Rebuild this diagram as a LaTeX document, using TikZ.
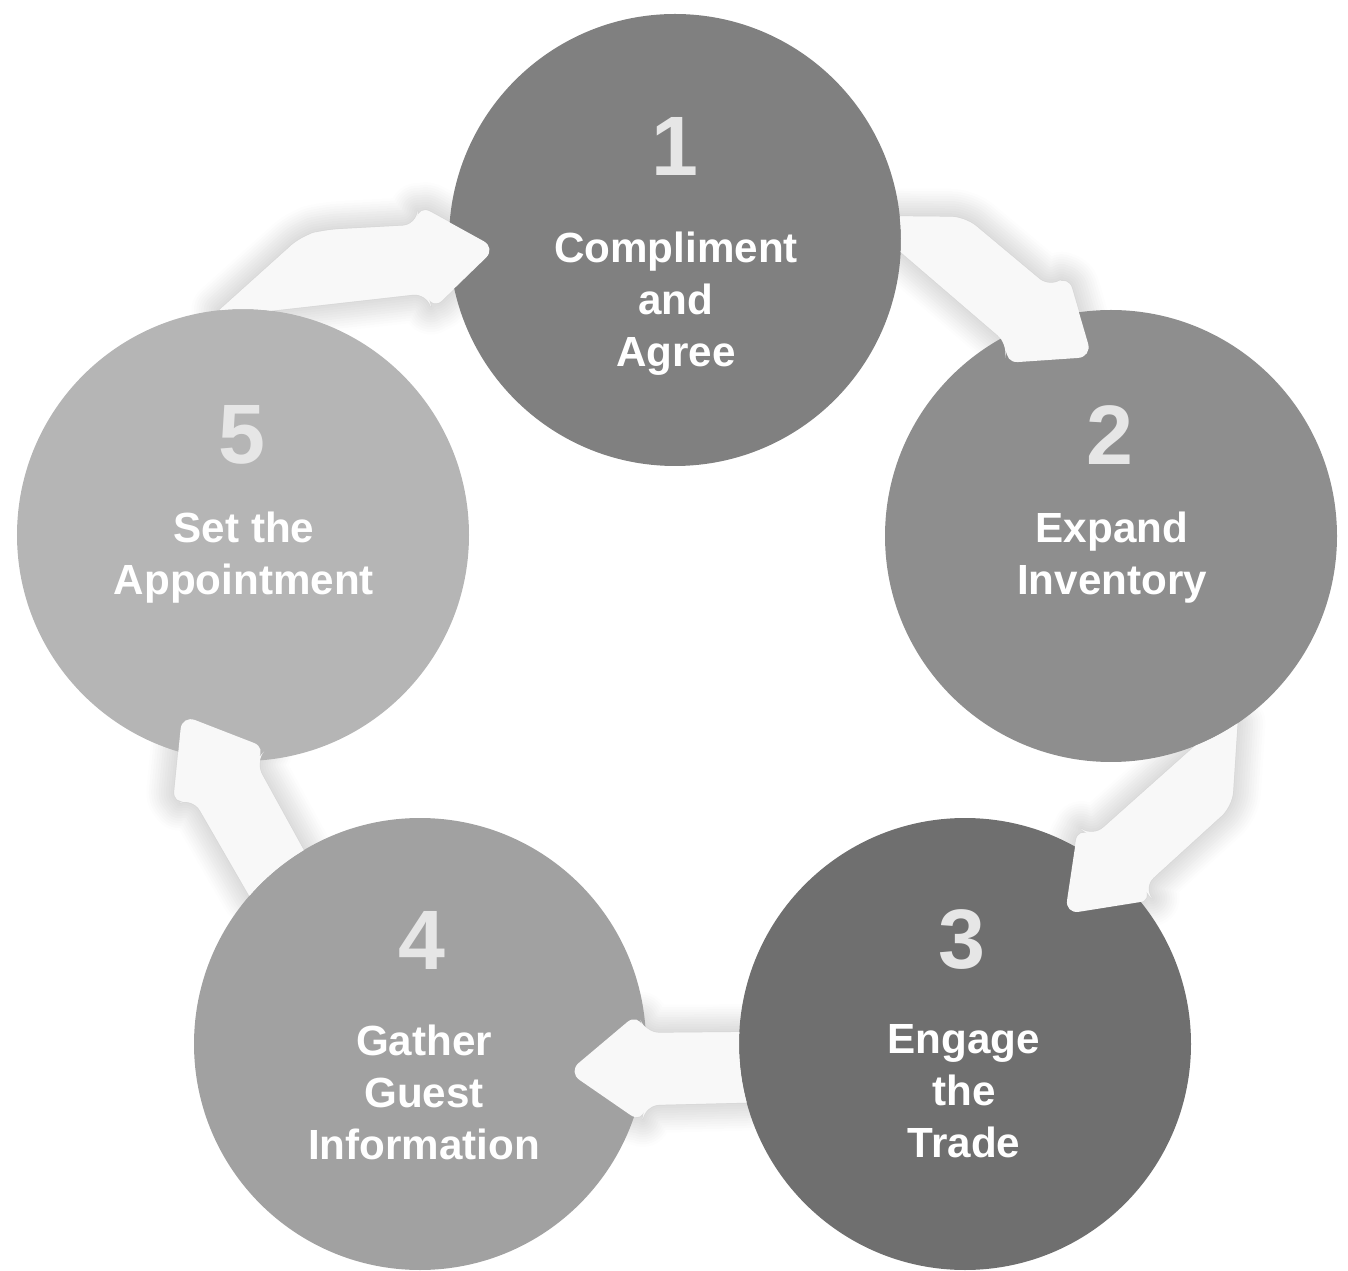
\documentclass[tikz,border=0pt]{standalone}
\usepackage{fontspec}
\setmainfont{Liberation Sans}
\usetikzlibrary{backgrounds,shadows.blur}
\definecolor{stageA}{HTML}{808080}
\definecolor{stageB}{HTML}{8E8E8E}
\definecolor{stageC}{HTML}{6F6F6F}
\definecolor{stageD}{HTML}{A1A1A1}
\definecolor{stageE}{HTML}{B5B5B5}
\definecolor{arrowfill}{HTML}{F8F8F8}
\definecolor{numgray}{HTML}{E6E6E6}
% arrow outlines, tails cut along the source circle
\newcommand\pathAB{(c1.6) [rounded corners=4pt] -- (9.65,-2.17) -- (10.50,-2.88) -- (10.68,-2.75) -- (10.92,-3.57) -- (10.04,-3.63) -- (10.08,-3.44) [sharp corners] -- (c1.-3) arc[start angle=-3,end angle=6,radius=2.26] -- cycle}
\newcommand\pathBC{(c2.-56) [rounded corners=4pt] -- (12.32,-8.06) -- (11.43,-8.87) -- (11.53,-9.00) -- (10.65,-9.14) -- (10.78,-8.27) -- (10.93,-8.37) [sharp corners] -- (c2.-68) arc[start angle=-68,end angle=-56,radius=2.26] -- cycle}
\newcommand\pathCD{(c3.177) [rounded corners=4pt] -- (6.45,-10.33) -- (6.38,-10.13) -- (5.68,-10.72) -- (6.42,-11.23) -- (6.45,-11.05) [sharp corners] -- (c3.195) arc[start angle=195,end angle=177,radius=2.26] -- cycle}
\newcommand\pathDE{(c4.121) [rounded corners=4pt] -- (2.55,-7.62) -- (2.67,-7.48) -- (1.82,-7.15) -- (1.73,-8.05) -- (1.93,-7.98) [sharp corners] -- (c4.139) arc[start angle=139,end angle=121,radius=2.26] -- cycle}
\newcommand\pathEA{(c5.96) [rounded corners=4pt] -- (3.02,-2.36) -- (3.25,-2.30) -- (4.17,-2.25) -- (4.18,-2.05) -- (4.96,-2.48) -- (4.32,-3.10) -- (4.27,-2.93) [sharp corners] -- (c5.83) arc[start angle=83,end angle=96,radius=2.26] -- cycle}
\begin{document}
\begin{tikzpicture}[
  stage/.style={circle,minimum size=4.52cm,inner sep=0pt,outer sep=0pt},
  num/.style={font=\fontsize{24}{26}\selectfont\bfseries,text=numgray,inner sep=0pt},
  lbl/.style={font=\fontsize{12}{14.8}\selectfont\bfseries,text=white,align=center,anchor=north,inner sep=0pt},
  bigarrow/.style={fill=arrowfill},
  arrowglow/.style={fill=arrowfill,blur shadow={shadow xshift=0pt,shadow yshift=0pt,shadow blur radius=8pt,shadow blur steps=12,shadow opacity=30}}]
\useasboundingbox (0,0) rectangle (13.48,-12.71);
% the five stages
\node[stage,fill=stageA] (c1) at (6.75,-2.40) {};
\node[stage,fill=stageB] (c2) at (11.11,-5.36) {};
\node[stage,fill=stageC] (c3) at (9.65,-10.44) {};
\node[stage,fill=stageD] (c4) at (4.20,-10.44) {};
\node[stage,fill=stageE] (c5) at (2.43,-5.35) {};
% glow behind the stages, arrows on top
\begin{pgfonlayer}{background}
  \fill[arrowglow] \pathAB;
  \fill[arrowglow] \pathBC;
  \fill[arrowglow] \pathCD;
  \fill[arrowglow] \pathDE;
  \fill[arrowglow] \pathEA;
\end{pgfonlayer}
\fill[bigarrow] \pathAB;
\fill[bigarrow] \pathBC;
\fill[bigarrow] \pathCD;
\fill[bigarrow] \pathDE;
\fill[bigarrow] \pathEA;
% numbers and labels
\node[num] (n1) at (6.75,-1.46) {1};
\node[num] (n2) at (11.10,-4.35) {2};
\node[num] (n3) at (9.62,-9.40) {3};
\node[num] (n4) at (4.22,-9.40) {4};
\node[num] (n5) at (2.42,-4.35) {5};
\node[lbl] (t1) at (6.76,-2.31) {Compliment\\and\\Agree};
\node[lbl] (t2) at (11.12,-5.11) {Expand\\Inventory};
\node[lbl] (t3) at (9.64,-10.24) {Engage\\the\\Trade};
\node[lbl] (t4) at (4.24,-10.24) {Gather\\Guest\\Information};
\node[lbl] (t5) at (2.44,-5.11) {Set the\\Appointment};
\end{tikzpicture}
\end{document}
